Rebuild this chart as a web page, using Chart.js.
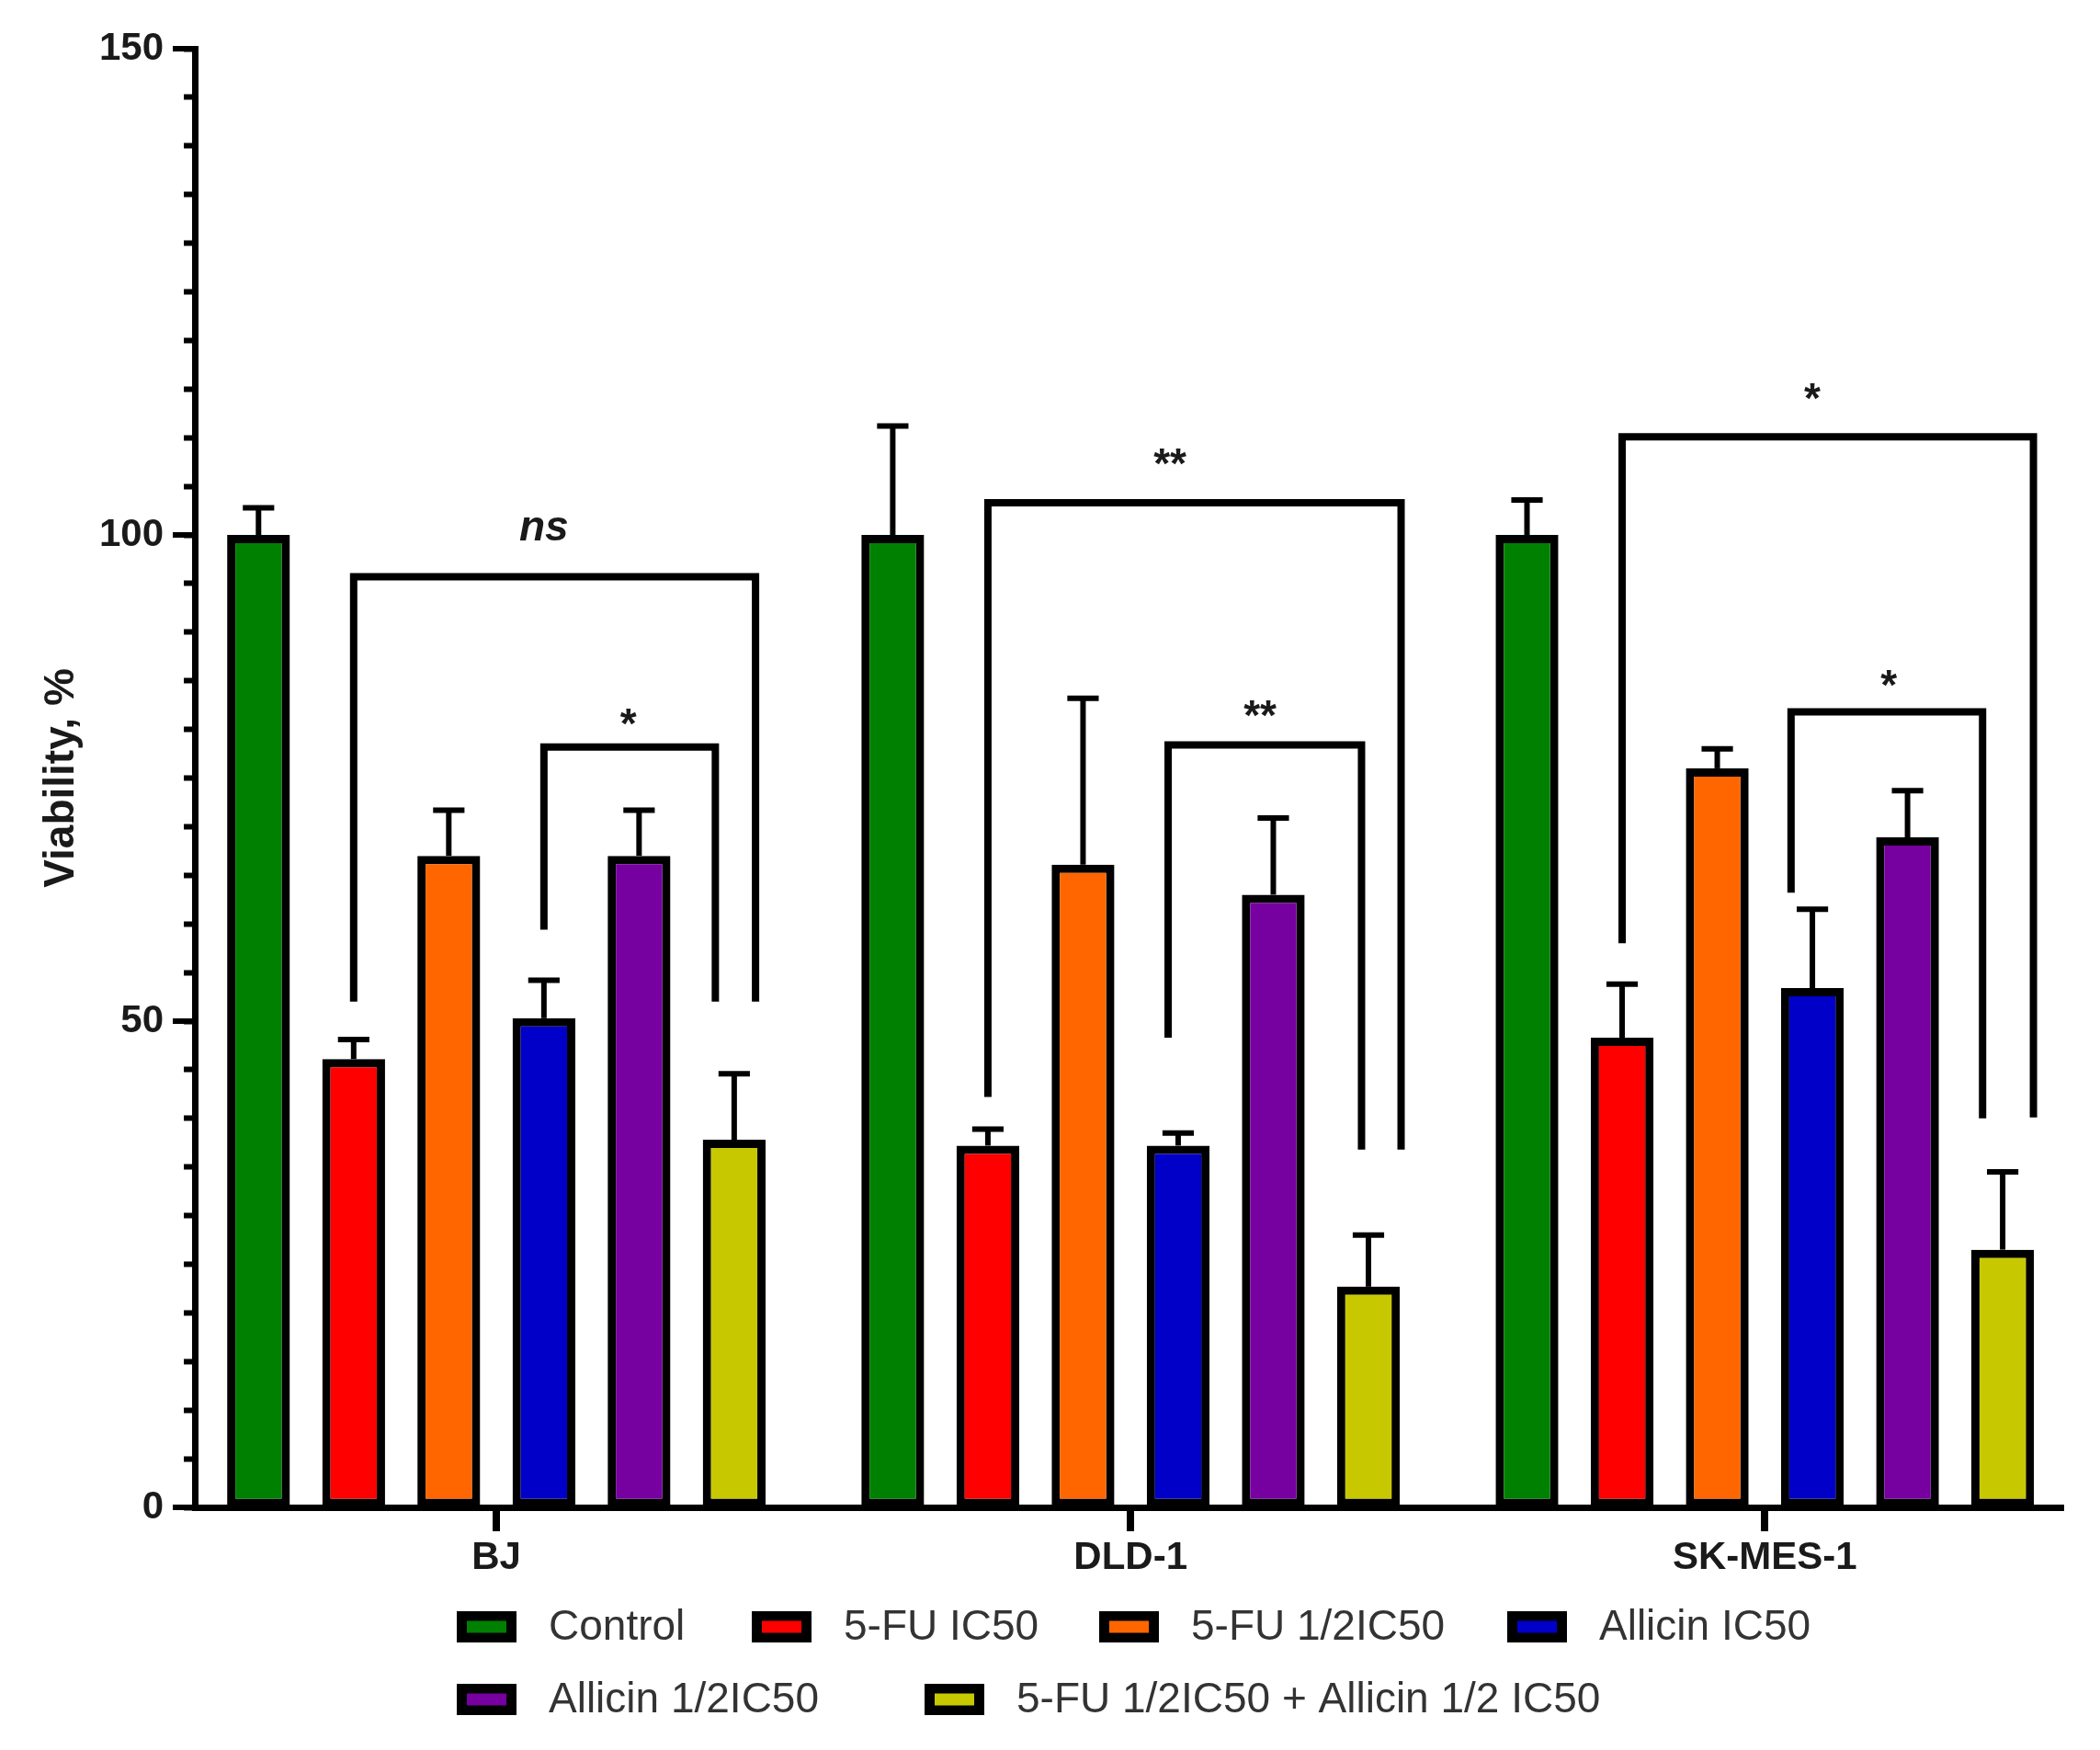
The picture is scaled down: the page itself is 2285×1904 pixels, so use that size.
<!DOCTYPE html>
<html><head><meta charset="utf-8">
<script src="https://cdn.jsdelivr.net/npm/chart.js@4.4.1/dist/chart.umd.min.js"></script>
<style>html,body{margin:0;padding:0;background:#fff;overflow:hidden}</style>
</head><body>
<canvas id="c" width="2285" height="1904"></canvas>
<script>
// ---------- data ----------
const cellLines = ['BJ', 'DLD-1', 'SK-MES-1'];
const treatments = ['Control', '5-FU IC50', '5-FU 1/2IC50', 'Allicin IC50', 'Allicin 1/2IC50', '5-FU 1/2IC50 + Allicin 1/2 IC50'];

const control      = [100.0, 100.0, 100.0];
const fuIC50       = [46.1, 37.2, 48.3];
const fuHalf       = [67.0, 66.1, 76.0];
const allicinIC50  = [50.3, 37.2, 53.4];
const allicinHalf  = [67.0, 63.0, 68.9];
const combo        = [37.8, 22.7, 26.5];

const controlErr     = [2.8, 11.2, 3.6];
const fuIC50Err      = [2.0, 1.7, 5.5];
const fuHalfErr      = [4.7, 17.1, 2.0];
const allicinIC50Err = [3.9, 1.3, 8.1];
const allicinHalfErr = [4.7, 7.9, 4.8];
const comboErr       = [6.8, 5.3, 8.0];

const yMin = 0, yMax = 150, yStep = 5;
const yLabelled = [0, 50, 100, 150];

// significance brackets (group = cell line index, from/to = treatment index)
const bracketGroup    = [0, 0, 1, 1, 2, 2];
const bracketFrom     = [1, 3, 1, 3, 1, 3];
const bracketTo       = [5, 5, 5, 5, 5, 5];
const bracketTop      = [95.7, 78.2, 103.3, 78.4, 110.1, 81.8];
const bracketLeftEnd  = [52.0, 59.4, 42.2, 48.3, 58.0, 63.2];
const bracketRightEnd = [52.0, 52.0, 36.8, 36.8, 40.1, 40.0];
const bracketLabel    = ['ns', '*', '**', '**', '*', '*'];
const bracketLabelY   = [99.4, 79.1, 105.9, 80.0, 112.6, 83.1];

// ---------- styling ----------
const colors = ['#008000', '#FF0000', '#FF6600', '#0000C8', '#7700A0', '#C8C800'];
const FONT = '"Liberation Sans", Arial, Helvetica, sans-serif';
// visual placement tweaks, as fractions of bar width
const legShiftL   = [0, 0, 0, -0.16, 0, -0.34];
const legShiftR   = [0.34, -0.30, 0.52, -0.11, 0.49, -0.32];
const labelShift  = [0, -0.17, -0.13, -0.21, 0, -0.30];

const values = [control, fuIC50, fuHalf, allicinIC50, allicinHalf, combo];
const errors = [controlErr, fuIC50Err, fuHalfErr, allicinIC50Err, allicinHalfErr, comboErr];

const datasets = treatments.map((t, i) => ({
  label: t,
  data: values[i].map((v, j) => ({ x: j, y: v })),
  backgroundColor: colors[i],
  borderColor: '#000',
  borderWidth: 9,
  borderSkipped: false,
  categoryPercentage: 0.9,
  barPercentage: 0.66
}));

const extrasPlugin = {
  id: 'extras',
  afterDatasetsDraw(chart) {
    const ctx = chart.ctx;
    const ys = chart.scales.y;
    ctx.save();
    ctx.strokeStyle = '#000';
    ctx.lineCap = 'butt';
    // error bars (upper)
    chart.data.datasets.forEach((ds, i) => {
      const meta = chart.getDatasetMeta(i);
      meta.data.forEach((el, j) => {
        const v = values[i][j], e = errors[i][j];
        const yTop = ys.getPixelForValue(v + e);
        const yBar = ys.getPixelForValue(v);
        ctx.lineWidth = 6;
        ctx.beginPath();
        ctx.moveTo(el.x, yBar);
        ctx.lineTo(el.x, yTop);
        ctx.stroke();
        const cap = el.width * 0.5;
        ctx.beginPath();
        ctx.moveTo(el.x - cap / 2, yTop);
        ctx.lineTo(el.x + cap / 2, yTop);
        ctx.stroke();
      });
    });
    // brackets
    bracketLabel.forEach((lab, k) => {
      const g = bracketGroup[k];
      const elL = chart.getDatasetMeta(bracketFrom[k]).data[g];
      const elR = chart.getDatasetMeta(bracketTo[k]).data[g];
      const xL = elL.x + legShiftL[k] * elL.width;
      const xR = elR.x + legShiftR[k] * elR.width;
      const yT = ys.getPixelForValue(bracketTop[k]);
      ctx.lineWidth = 8;
      ctx.lineJoin = 'miter';
      ctx.beginPath();
      ctx.moveTo(xL, ys.getPixelForValue(bracketLeftEnd[k]));
      ctx.lineTo(xL, yT);
      ctx.lineTo(xR, yT);
      ctx.lineTo(xR, ys.getPixelForValue(bracketRightEnd[k]));
      ctx.stroke();
      ctx.fillStyle = '#1a1a1a';
      ctx.textAlign = 'center';
      ctx.textBaseline = 'alphabetic';
      ctx.font = (lab === 'ns' ? 'italic bold 46px ' : 'bold 46px ') + FONT;
      const lx = (elL.x + elR.x) / 2 + labelShift[k] * elL.width;
      ctx.fillText(lab, lx, ys.getPixelForValue(bracketLabelY[k]));
    });
    ctx.restore();
  },
  afterDraw(chart) {
    const ctx = chart.ctx;
    const ys = chart.scales.y;
    const xs = chart.scales.x;
    const area = chart.chartArea;
    ctx.save();
    ctx.strokeStyle = '#000';
    // longer major ticks on y
    ctx.lineWidth = 6;
    yLabelled.forEach(v => {
      const y = ys.getPixelForValue(v);
      ctx.beginPath();
      ctx.moveTo(area.left - 24, y);
      ctx.lineTo(area.left, y);
      ctx.stroke();
    });
    // category tick marks on x
    ctx.lineWidth = 8;
    ctx.strokeStyle = '#000';
    cellLines.forEach((_, i) => {
      const x = Math.round(xs.getPixelForValue(i));
      ctx.beginPath();
      ctx.moveTo(x, area.bottom);
      ctx.lineTo(x, area.bottom + 26);
      ctx.stroke();
    });
    // legend
    const pos = [[497, 1770], [818, 1770], [1196, 1770], [1640, 1770], [497, 1849], [1006, 1849]];
    ctx.font = '46px ' + FONT;
    ctx.textAlign = 'left';
    ctx.textBaseline = 'middle';
    chart.data.datasets.forEach((ds, i) => {
      const [x, y] = pos[i];
      ctx.fillStyle = '#000';
      ctx.fillRect(x, y - 17, 65, 34);
      ctx.fillStyle = ds.backgroundColor;
      ctx.fillRect(x + 11, y - 6.5, 43, 13);
      ctx.fillStyle = '#333';
      ctx.fillText(ds.label, x + 100, y + 1);
    });
    ctx.restore();
  }
};

new Chart(document.getElementById('c'), {
  type: 'bar',
  data: { datasets },
  options: {
    responsive: false,
    devicePixelRatio: 1,
    animation: false,
    layout: { padding: { left: 0, top: 53, right: 40, bottom: 0 } },
    plugins: { legend: { display: false }, tooltip: { enabled: false } },
    scales: {
      x: {
        type: 'linear',
        bounds: 'data',
        offset: false,
        min: -0.4754,
        max: 2.4705,
        afterBuildTicks: (s) => { s.ticks = cellLines.map((_, i) => ({ value: i })); },
        afterFit: (s) => { s.height = 264; },
        grid: { display: true, offset: false, drawOnChartArea: false, drawTicks: true, tickLength: 22, tickWidth: 7, tickColor: '#000' },
        border: { display: true, width: 7, color: '#000' },
        ticks: {
          autoSkip: false,
          maxRotation: 0,
          padding: 8,
          color: '#1a1a1a',
          font: { family: FONT, size: 42, weight: 'bold' },
          callback: (v) => cellLines[v] ?? ''
        }
      },
      y: {
        type: 'linear',
        min: yMin,
        max: yMax,
        afterFit: (s) => { s.width = 212; },
        grid: { display: true, drawOnChartArea: false, drawTicks: true, tickLength: 12, tickWidth: 6, tickColor: '#000' },
        border: { display: true, width: 7, color: '#000' },
        ticks: {
          stepSize: yStep,
          autoSkip: false,
          padding: 22,
          color: '#1a1a1a',
          font: { family: FONT, size: 42, weight: 'bold' },
          callback: (v) => (yLabelled.includes(v) ? String(v) : '')
        },
        title: {
          display: true,
          text: 'Viability, %',
          color: '#1a1a1a',
          font: { family: FONT, size: 46, weight: 'bold' },
          padding: { top: 40, bottom: 0 }
        }
      }
    }
  },
  plugins: [extrasPlugin]
});
</script>
</body></html>
